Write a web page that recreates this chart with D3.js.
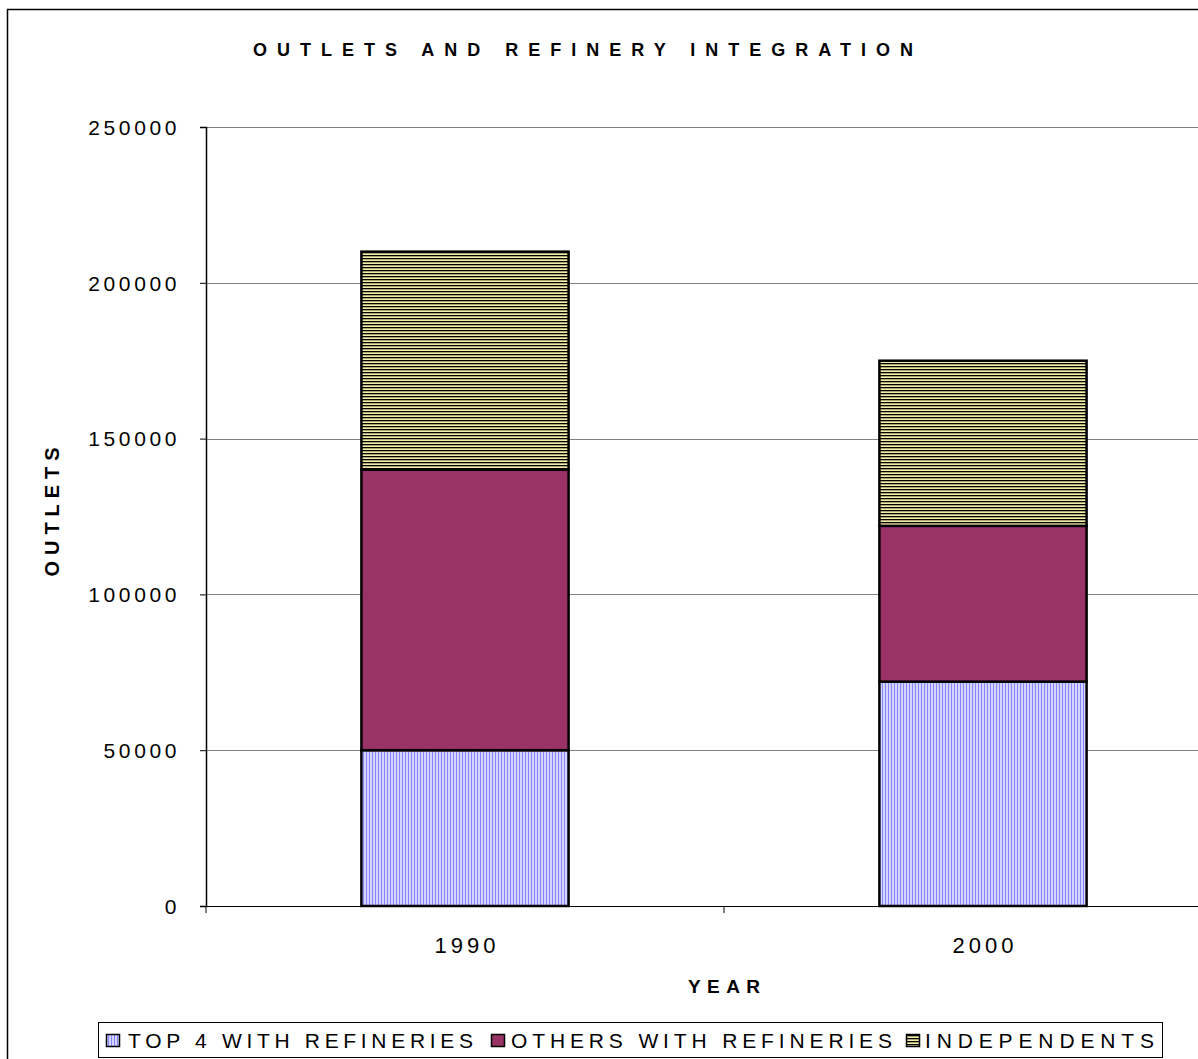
<!DOCTYPE html>
<html>
<head>
<meta charset="utf-8">
<script src="https://cdn.jsdelivr.net/npm/d3@7"></script>
<style>
  html, body { margin: 0; padding: 0; background: #fff; }
  svg { display: block; font-family: "Liberation Sans", Arial, sans-serif; }
</style>
</head>
<body>
<svg id="chart" width="1198" height="1059"></svg>
<script>
// ---- data ----
const years = ["1990", "2000"];
const seriesNames = ["TOP 4 WITH REFINERIES", "OTHERS WITH REFINERIES", "INDEPENDENTS"];
const top4 = [50000, 72000];
const others = [90000, 50000];
const independents = [70000, 53000];
const yTicks = [0, 50000, 100000, 150000, 200000, 250000];
const title = "OUTLETS AND REFINERY INTEGRATION";
const xTitle = "YEAR";
const yTitle = "OUTLETS";

const rows = years.map((y, i) => ({ year: y, top4: top4[i], others: others[i], independents: independents[i] }));
const keys = ["top4", "others", "independents"];

const svg = d3.select("#chart");
const defs = svg.append("defs");

// patterns
const p1 = defs.append("pattern").attr("id", "pTop4").attr("patternUnits", "userSpaceOnUse")
  .attr("width", 3).attr("height", 3);
p1.append("rect").attr("width", 3).attr("height", 3).attr("fill", "#d4d4ff");
p1.append("rect").attr("x", 0).attr("width", 1).attr("height", 3).attr("fill", "#8585ff");

const p3 = defs.append("pattern").attr("id", "pInd").attr("patternUnits", "userSpaceOnUse")
  .attr("width", 3).attr("height", 3);
p3.append("rect").attr("width", 3).attr("height", 3).attr("fill", "#f2eca8");
p3.append("rect").attr("y", 0).attr("width", 3).attr("height", 1.3).attr("fill", "#000");

const fills = { top4: "url(#pTop4)", others: "#993366", independents: "url(#pInd)" };

// outer border
svg.append("rect").attr("x", 7.5).attr("y", 9.5).attr("width", 1300).attr("height", 1200)
  .attr("fill", "none").attr("stroke", "#000").attr("stroke-width", 1.5);

// scales
const x = d3.scaleBand().domain(years).range([206, 1242]).paddingInner(0.6).paddingOuter(0.3);
const xc = d3.scaleBand().domain(years).range([206, 1242]);
const y = d3.scaleLinear().domain([0, 250000]).range([906, 127]);

// gridlines
svg.append("g").selectAll("line").data(yTicks.filter(d => d > 0)).join("line")
  .attr("x1", 206).attr("x2", 1198)
  .attr("y1", d => Math.round(y(d)) + 0.5).attr("y2", d => Math.round(y(d)) + 0.5)
  .attr("stroke", "#808080").attr("stroke-width", 1);

// bars
const stack = d3.stack().keys(keys)(rows);
svg.append("g").selectAll("g").data(stack).join("g")
  .attr("fill", d => fills[d.key])
  .selectAll("rect").data(d => d).join("rect")
  .attr("x", d => x(d.data.year))
  .attr("width", x.bandwidth())
  .attr("y", d => y(d[1]))
  .attr("height", d => y(d[0]) - y(d[1]))
  .attr("stroke", "#000").attr("stroke-width", 2.5);

// y axis
const yAxis = svg.append("g").attr("transform", "translate(206,0)")
  .call(d3.axisLeft(y).tickValues(yTicks).tickFormat(d3.format("d")).tickSize(6).tickPadding(20));
yAxis.select(".domain").attr("stroke", "#000").attr("stroke-width", 1.5);
yAxis.selectAll(".tick line").attr("stroke", "#000");
yAxis.selectAll(".tick text").attr("font-size", 21).attr("fill", "#000")
  .attr("letter-spacing", "3.6px").attr("dy", "0.35em")
  .attr("font-family", "Liberation Sans, Arial, sans-serif");

// x axis
const xAxis = svg.append("g").attr("transform", "translate(0,906)");
xAxis.append("line").attr("x1", 206).attr("x2", 1198).attr("y1", 0.5).attr("y2", 0.5)
  .attr("stroke", "#000").attr("stroke-width", 1);
xAxis.selectAll("line.tk").data(years).join("line").attr("class", "tk")
  .attr("x1", d => xc(d)).attr("x2", d => xc(d)).attr("y1", 0).attr("y2", 7)
  .attr("stroke", "#000");
xAxis.selectAll("text").data(years).join("text")
  .attr("x", d => x(d) + x.bandwidth() / 2).attr("y", 47)
  .attr("text-anchor", "middle").attr("font-size", 22).attr("letter-spacing", "4px")
  .attr("dx", 2)
  .text(d => d);

// titles
svg.append("text").attr("x", 583).attr("y", 56).attr("text-anchor", "middle")
  .attr("font-size", 18).attr("font-weight", "bold")
  .attr("textLength", 660).attr("lengthAdjust", "spacing")
  .text(title);

svg.append("text").attr("x", 724).attr("y", 993).attr("text-anchor", "middle")
  .attr("font-size", 19).attr("font-weight", "bold")
  .attr("textLength", 72).attr("lengthAdjust", "spacing")
  .text(xTitle);

svg.append("text").attr("transform", "translate(59,512) rotate(-90)").attr("text-anchor", "middle")
  .attr("font-size", 20).attr("font-weight", "bold")
  .attr("textLength", 129).attr("lengthAdjust", "spacing")
  .text(yTitle);

// legend
const lg = svg.append("g");
lg.append("rect").attr("x", 98.5).attr("y", 1022.5).attr("width", 1064).attr("height", 35)
  .attr("fill", "#fff").attr("stroke", "#000").attr("stroke-width", 1);
const legendItems = [
  { key: "top4", sx: 106, tx: 128, tw: 345 },
  { key: "others", sx: 491, tx: 511, tw: 381 },
  { key: "independents", sx: 906, tx: 925, tw: 229 }
];
legendItems.forEach((it, i) => {
  lg.append("rect").attr("x", it.sx + 0.5).attr("y", 1034.5).attr("width", 13).attr("height", 12)
    .attr("fill", fills[it.key]).attr("stroke", "#000").attr("stroke-width", 1.5);
  lg.append("text").attr("x", it.tx).attr("y", 1048).attr("font-size", 21)
    .attr("textLength", it.tw).attr("lengthAdjust", "spacing")
    .text(seriesNames[i]);
});
</script>
</body>
</html>
